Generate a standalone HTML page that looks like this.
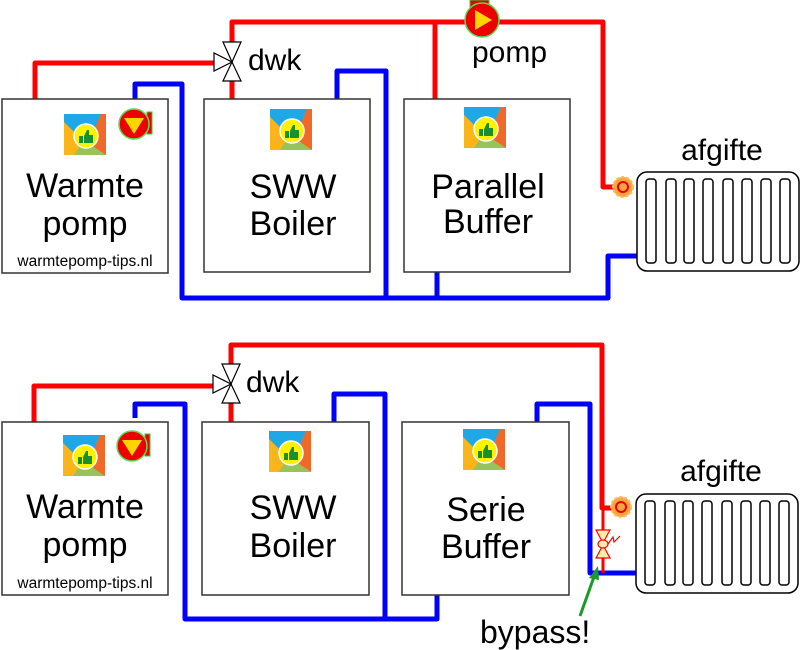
<!DOCTYPE html>
<html><head><meta charset="utf-8"><style>
body{margin:0;background:#fff}
svg{display:block}
text{font-family:"Liberation Sans",Arial,sans-serif;fill:#000}
</style></head><body>
<svg width="800" height="650" viewBox="0 0 800 650" xmlns="http://www.w3.org/2000/svg">
<defs>
<g id="logo">
<rect x="0" y="0" width="42" height="41" fill="#f29a1f"/>
<polygon points="0,0 37,0 31,14 12,20 0,8" fill="#1ea9e6"/>
<polygon points="0,8 12,20 16,32 10,41 0,41" fill="#fbb519"/>
<polygon points="37,0 42,0 42,41 30,33 31,14" fill="#ef6a2a"/>
<polygon points="10,41 16,32 30,33 42,41" fill="#97c45a"/>
<circle cx="22" cy="22" r="12" fill="#fff200" stroke="#fff" stroke-width="1.5"/>
<rect x="15" y="22" width="4" height="7" fill="#1a8f2e"/>
<path d="M20,22 L23,16 L25,16 L25,21 L29,21 L29,29 L20,29 Z" fill="#1a8f2e"/>
</g>
<g id="pumpdown">
<rect x="13" y="-12" width="5" height="22" fill="#e00" stroke="#3c3" stroke-width="1"/>
<circle cx="0" cy="0" r="15" fill="#e00" stroke="#5d5" stroke-width="1.5"/>
<polygon points="-10,-6 10,-6 0,10" fill="#ffd500"/>
</g>
<g id="rad">
<rect x="0" y="0" width="162" height="99" rx="10" fill="#fff" stroke="#000" stroke-width="1.5"/>
<g fill="none" stroke="#000" stroke-width="1.5">
<rect x="9" y="7" width="10" height="84" rx="3"/>
<rect x="29" y="7" width="10" height="84" rx="3"/>
<rect x="47" y="7" width="10" height="84" rx="3"/>
<rect x="66" y="7" width="10" height="84" rx="3"/>
<rect x="86" y="7" width="10" height="84" rx="3"/>
<rect x="105" y="7" width="10" height="84" rx="3"/>
<rect x="124" y="7" width="10" height="84" rx="3"/>
<rect x="143" y="7" width="10" height="84" rx="3"/>
</g>
</g>
<g id="tv">
<circle cx="0" cy="0" r="10" fill="#f7a540" stroke="#fbc060" stroke-width="2" stroke-dasharray="3 2"/>
<circle cx="0" cy="0" r="5" fill="none" stroke="#e00" stroke-width="2"/>
</g>
<g id="dwk">
<polygon points="-9,-20 9,-20 0,0" fill="#fff" stroke="#000" stroke-width="1.2"/>
<polygon points="-9,19 9,19 0,0" fill="#fff" stroke="#000" stroke-width="1.2"/>
<polygon points="-18,-9 -18,9 0,0" fill="#fff" stroke="#000" stroke-width="1.2"/>
</g>
</defs>

<!-- ================= TOP ================= -->
<g fill="none" stroke-width="5" stroke-linejoin="round">
<polyline points="35,99 35,63 214,63" stroke="#f00"/>
<polyline points="232,99 232,81" stroke="#f00"/>
<polyline points="232,43 232,22 603,22 603,187 616,187" stroke="#f00"/>
<line x1="435" y1="22" x2="435" y2="99" stroke="#f00"/>
<polyline points="135,99 135,84 182,84 182,298 608,298 608,256 638,256" stroke="#00f"/>
<polyline points="337,99 337,71 386,71 386,298" stroke="#00f"/>
<line x1="437" y1="270" x2="437" y2="298" stroke="#00f"/>
</g>
<rect x="2" y="99" width="166" height="174" fill="#fff" stroke="#333" stroke-width="1.5"/>
<rect x="204" y="99" width="166" height="173" fill="#fff" stroke="#333" stroke-width="1.5"/>
<rect x="404" y="99" width="166" height="173" fill="#fff" stroke="#333" stroke-width="1.5"/>
<use href="#logo" x="64" y="114"/>
<use href="#logo" x="270" y="109"/>
<use href="#logo" x="464" y="107"/>
<use href="#pumpdown" x="134" y="124"/>
<use href="#dwk" x="232" y="62"/>
<text x="248" y="70" font-size="30">dwk</text>
<rect x="470" y="0" width="19" height="8" fill="#e00" stroke="#3c3"/>
<circle cx="482" cy="20" r="17" fill="#e00" stroke="#5d5" stroke-width="1.5"/>
<polygon points="475,10 475,30 492,20" fill="#ffd500"/>
<text x="472" y="62" font-size="30">pomp</text>
<text x="85" y="197" font-size="34" text-anchor="middle">Warmte</text>
<text x="85" y="235" font-size="34" text-anchor="middle">pomp</text>
<text x="85" y="266" font-size="15.5" text-anchor="middle">warmtepomp-tips.nl</text>
<text x="293" y="198" font-size="34" text-anchor="middle">SWW</text>
<text x="293" y="235" font-size="34" text-anchor="middle">Boiler</text>
<text x="488" y="198" font-size="34" text-anchor="middle">Parallel</text>
<text x="488" y="233" font-size="34" text-anchor="middle">Buffer</text>
<use href="#rad" x="637" y="172"/>
<use href="#tv" x="623" y="187"/>
<text x="722" y="160" font-size="30" text-anchor="middle">afgifte</text>

<!-- ================= BOTTOM ================= -->
<g fill="none" stroke-width="5" stroke-linejoin="round">
<polyline points="34,422 34,386 214,386" stroke="#f00"/>
<polyline points="231,422 231,403" stroke="#f00"/>
<polyline points="231,365 231,345 602,345 602,508 614,508" stroke="#f00"/>
<polyline points="135,418 135,404 185,404 185,619 437,619 437,592" stroke="#00f"/>
<polyline points="334,422 334,394 385,394 385,619" stroke="#00f"/>
<polyline points="537,422 537,404 590,404 590,573 636,573" stroke="#00f"/>
<line x1="603" y1="508" x2="603" y2="573" stroke="#f00" stroke-width="3"/>
</g>
<rect x="2" y="422" width="166" height="173" fill="#fff" stroke="#333" stroke-width="1.5"/>
<rect x="202" y="422" width="167" height="173" fill="#fff" stroke="#333" stroke-width="1.5"/>
<rect x="402" y="422" width="167" height="173" fill="#fff" stroke="#333" stroke-width="1.5"/>
<use href="#logo" x="63" y="435"/>
<use href="#logo" x="269" y="431"/>
<use href="#logo" x="463" y="429"/>
<use href="#pumpdown" x="132" y="446"/>
<use href="#dwk" x="231" y="384"/>
<text x="246" y="392" font-size="30">dwk</text>
<text x="85" y="518" font-size="34" text-anchor="middle">Warmte</text>
<text x="85" y="556" font-size="34" text-anchor="middle">pomp</text>
<text x="85" y="588" font-size="15.5" text-anchor="middle">warmtepomp-tips.nl</text>
<text x="293" y="519" font-size="34" text-anchor="middle">SWW</text>
<text x="293" y="557" font-size="34" text-anchor="middle">Boiler</text>
<text x="486" y="521" font-size="34" text-anchor="middle">Serie</text>
<text x="486" y="558" font-size="34" text-anchor="middle">Buffer</text>
<use href="#rad" x="636" y="494"/>
<use href="#tv" x="621" y="507"/>
<text x="721" y="481" font-size="30" text-anchor="middle">afgifte</text>
<!-- bypass valve -->
<polygon points="596,530 610,530 603,543" fill="#ffeeaa" stroke="#f00" stroke-width="1.2"/>
<polygon points="596,558 610,558 603,545" fill="#ffeeaa" stroke="#f00" stroke-width="1.2"/>
<ellipse cx="603" cy="544" rx="5" ry="4" fill="#ffeeaa" stroke="#f00" stroke-width="1.2"/>
<polyline points="608,544 613,537 614,542 620,536" fill="none" stroke="#f00" stroke-width="1.2"/>
<!-- green arrow -->
<line x1="580" y1="616" x2="595" y2="574" stroke="#1a9a2a" stroke-width="3"/>
<polygon points="598,566 589,578 599,580" fill="#1a9a2a"/>
<text x="480" y="643" font-size="32">bypass!</text>
</svg>
</body></html>
